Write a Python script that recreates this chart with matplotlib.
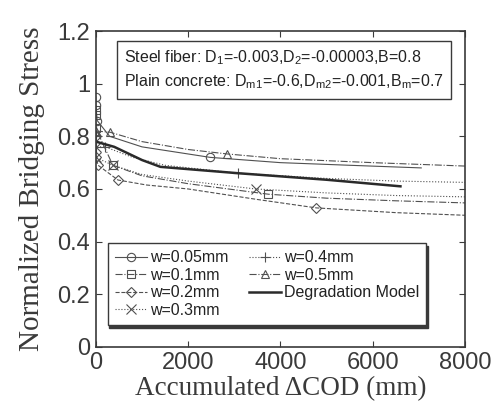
import numpy as np
import matplotlib
matplotlib.use("Agg")
import matplotlib.pyplot as plt

# --- datos ---
x_005 = [0, 0, 30, 300, 1000, 2480, 4000, 5500, 7050]
y_005 = [0.95, 0.92, 0.86, 0.80, 0.76, 0.72, 0.70, 0.69, 0.68]
m_005 = [0, 1, 2, 5]

x_01 = [0, 0, 0, 370, 1000, 2000, 3740, 5000, 6500, 8000]
y_01 = [0.90, 0.88, 0.83, 0.69, 0.65, 0.62, 0.58, 0.565, 0.555, 0.547]
m_01 = [0, 1, 2, 3, 6]

x_02 = [0, 0, 50, 480, 1100, 2000, 3500, 4780, 6500, 8000]
y_02 = [0.80, 0.72, 0.69, 0.634, 0.615, 0.60, 0.56, 0.528, 0.51, 0.50]
m_02 = [0, 1, 2, 3, 7]

x_03 = [0, 0, 370, 1000, 2000, 3460, 5000, 6500, 8000]
y_03 = [0.76, 0.72, 0.69, 0.655, 0.63, 0.60, 0.585, 0.575, 0.57]
m_03 = [0, 1, 2, 5]

x_04 = [0, 0, 200, 800, 1500, 3070, 5000, 6500, 8000]
y_04 = [0.80, 0.76, 0.76, 0.72, 0.69, 0.66, 0.64, 0.63, 0.625]
m_04 = [0, 1, 2, 5]

x_05 = [0, 300, 1000, 2000, 2850, 4000, 6000, 8000]
y_05 = [0.82, 0.816, 0.78, 0.75, 0.733, 0.715, 0.70, 0.687]
m_05 = [0, 1, 4]

x_mod = [0, 400, 1000, 1400, 3070, 5000, 6600]
y_mod = [0.78, 0.76, 0.71, 0.684, 0.66, 0.635, 0.61]

xticks = [0, 2000, 4000, 6000, 8000]
yticks = [0, 0.2, 0.4, 0.6, 0.8, 1, 1.2]
ytick_labels = ["0", "0.2", "0.4", "0.6", "0.8", "1", "1.2"]

# --- estilo ---
col = "#3a3a3a"
col_fino = "#505050"
plt.rcParams["font.family"] = ["Liberation Sans", "DejaVu Sans"]
plt.rcParams["mathtext.fontset"] = "custom"
plt.rcParams["mathtext.rm"] = "Liberation Sans"
plt.rcParams["mathtext.it"] = "Liberation Sans"

fig = plt.figure(figsize=(4.99, 4.09), dpi=100)
ax = fig.add_axes([0.192, 0.152, 0.740, 0.772])

series = [
    (x_005, y_005, m_005, "-", "o", "w=0.05mm"),
    (x_01, y_01, m_01, "-.", "s", "w=0.1mm"),
    (x_02, y_02, m_02, "--", "D", "w=0.2mm"),
    (x_03, y_03, m_03, ":", "x", "w=0.3mm"),
    (x_04, y_04, m_04, ":", "+", "w=0.4mm"),
    (x_05, y_05, m_05, "-.", "^", "w=0.5mm"),
]
for xs, ys, mk, ls, marker, lab in series:
    ms = 7 if marker in ("x", "+") else 6
    if marker == "D":
        ms = 5
    ax.plot(xs, ys, linestyle=ls, marker=marker, markevery=mk, color=col_fino,
            linewidth=0.8, markersize=ms, markerfacecolor="none",
            markeredgewidth=0.8, label=lab)

ax.plot(x_mod, y_mod, "-", color="#2a2a2a", linewidth=1.8, label="Degradation Model")

ax.set_xlim(0, 8000)
ax.set_ylim(0, 1.2)
ax.set_xticks(xticks)
ax.set_yticks(yticks)
ax.set_yticklabels(ytick_labels)
ax.tick_params(direction="in", top=True, right=True, labelsize=17,
               colors=col, length=4, pad=4)
for s in ax.spines.values():
    s.set_color(col)
    s.set_linewidth(1.2)

ax.set_xlabel("Accumulated \u0394COD (mm)", family="Liberation Serif",
              fontsize=19.5, color=col, labelpad=1)
ax.set_ylabel("Normalized Bridging Stress", family="Liberation Serif",
              fontsize=21, color=col, labelpad=9)

txt = ("Steel fiber: D$_1$=-0.003,D$_2$=-0.00003,B=0.8\n"
       "Plain concrete: D$_{m1}$=-0.6,D$_{m2}$=-0.001,B$_m$=0.7")
ax.text(0.076, 0.945, txt, transform=ax.transAxes, fontsize=11.5, color="#222",
        va="top", ha="left", linespacing=1.4,
        bbox=dict(boxstyle="square,pad=0.45", facecolor="white",
                  edgecolor=col, linewidth=1.0))

leg = ax.legend(ncol=2, loc="lower left", bbox_to_anchor=(0.033, 0.07),
                borderaxespad=0, fontsize=11.5, handlelength=2.0,
                handletextpad=0.2, columnspacing=1.25, labelspacing=0.15,
                borderpad=0.45, fancybox=False, framealpha=1, edgecolor=col,
                shadow={"color": col, "alpha": 1, "ox": 1, "oy": -2})
for t in leg.get_texts():
    t.set_color("#222")

fig.savefig("out.png", dpi=100)
